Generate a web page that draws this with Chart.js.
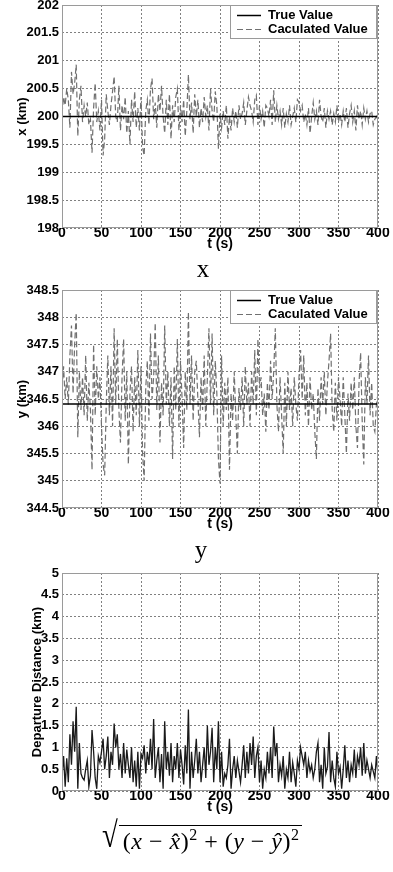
<!DOCTYPE html>
<html>
<head>
<meta charset="utf-8">
<script src="https://cdn.jsdelivr.net/npm/chart.js@4/dist/chart.umd.min.js"></script>
<style>
body{margin:0;background:#fff;width:393px;height:872px;position:relative;overflow:hidden}
canvas{position:absolute;left:0}
.cap{position:absolute;left:0;font-family:"Liberation Serif";font-size:25px;line-height:25px;text-align:center}
#formula{position:absolute;left:100px;top:822px;font-family:"Liberation Serif";font-size:24px;line-height:30px;white-space:nowrap}
#formula .rad{display:inline-block;font-size:36px;vertical-align:top;margin-top:-2px;margin-right:-1px;transform:scaleX(0.8)}
#formula .under{display:inline-block;border-top:1.5px solid #000;padding:0 2px 0 4px;margin-top:3px;letter-spacing:0.5px}
#formula sup{font-size:16px;vertical-align:9px;line-height:0}
</style>
</head>
<body>
<canvas id="chartX" width="393" height="256" style="top:0"></canvas>
<div class="cap" style="top:256px;width:406px">x</div>
<canvas id="chartY" width="393" height="252" style="top:284px"></canvas>
<div class="cap" style="top:537px;width:402px">y</div>
<canvas id="chartD" width="393" height="252" style="top:567px"></canvas>
<div id="formula"><span class="rad">√</span><span class="under">(<i>x</i> − <i>x̂</i>)<sup>2</sup> + (<i>y</i> − <i>ŷ</i>)<sup>2</sup></span></div>
<script>
// sampled every 2 s, t = 0 ... 400
const sampleStep = 2;
const trueX = 200;
const trueY = 346.41;
const calcX = [
  200.05,200.35,200.2,200.5,200.3,199.8,200.8,200.4,200.6,200.93,
  199.65,200.3,200.55,199.9,200.2,200.0,200.25,199.85,199.95,199.35,
  200.15,200.6,199.9,200.1,199.75,200.3,199.3,199.6,200.4,200.1,
  199.85,200.2,200.45,200.72,200.0,199.9,200.55,199.75,200.2,199.95,
  200.35,199.7,200.1,199.5,200.3,199.9,200.45,199.8,200.15,199.75,
  200.35,199.45,199.3,200.1,200.3,199.85,200.5,200.68,199.95,200.25,
  199.8,200.4,200.1,200.55,200.0,199.7,200.3,199.85,200.4,199.6,
  200.2,199.9,200.35,200.5,199.75,200.2,199.9,200.3,199.65,200.1,
  200.75,199.95,200.25,199.7,200.4,200.0,200.3,199.8,200.15,199.9,
  200.35,200.0,200.2,199.75,200.5,200.1,199.9,200.45,200.2,199.42,
  200.05,199.8,200.1,199.85,200.2,199.6,200.0,199.75,200.15,199.9,
  200.1,199.8,200.2,199.95,200.05,200.25,199.85,200.1,200.35,200.2,
  200.1,199.9,200.3,200.38,199.85,200.2,199.95,200.1,199.8,200.2,
  200.15,200.0,200.3,199.85,200.47,199.9,200.2,199.95,200.1,199.85,
  200.15,199.8,200.05,199.9,200.2,199.85,200.0,200.15,199.9,200.3,
  200.25,200.1,200.2,199.9,200.05,199.85,200.15,199.7,200.0,200.25,
  199.95,200.1,199.85,200.3,200.0,199.9,200.15,199.8,200.1,199.95,
  200.1,199.85,200.05,199.9,200.2,199.9,200.05,199.85,200.1,199.9,
  200.15,199.8,200.05,200.2,199.9,200.1,199.75,200.2,199.95,200.1,
  199.85,200.15,199.95,200.1,199.9,200.05,200.1,199.85,199.95,200.0,
  199.9
];
const calcY = [
  346.7,347.1,346.5,346.9,346.4,347.3,347.85,346.6,347.5,348.08,
  345.8,347.0,346.3,346.9,346.2,347.3,346.1,346.8,346.3,345.2,
  347.5,346.2,347.1,346.5,346.9,346.0,345.3,345.1,346.4,347.3,
  346.2,347.1,346.0,347.8,346.4,347.6,346.3,345.7,346.9,347.6,
  346.1,347.0,345.3,346.6,347.1,345.9,346.9,346.2,347.4,346.0,
  347.1,345.5,345.0,346.7,347.2,346.1,347.7,346.5,346.9,347.9,
  346.3,347.3,345.7,346.8,346.2,347.85,346.4,347.0,346.0,346.9,
  345.4,347.1,346.3,347.6,346.0,347.2,346.5,345.6,347.0,346.3,
  348.1,346.4,347.3,346.1,347.0,347.2,346.5,345.8,346.9,346.3,
  347.3,346.0,346.9,347.8,346.4,347.7,346.2,347.2,346.6,345.4,
  344.95,347.3,346.0,346.8,346.3,346.9,345.2,346.6,346.1,347.0,
  346.2,345.5,346.7,346.3,346.9,346.0,347.1,346.4,346.8,346.0,
  347.0,346.4,347.4,346.2,347.6,346.7,346.9,346.2,346.6,345.9,
  346.8,346.3,347.2,346.5,347.0,347.8,346.4,345.9,346.9,346.2,
  345.5,346.8,346.0,347.0,346.3,346.7,346.0,346.9,346.4,346.1,
  346.9,347.4,346.5,347.3,346.2,346.8,346.0,346.9,346.3,346.6,
  345.9,345.4,346.7,346.1,346.9,346.4,347.0,346.2,346.8,347.2,
  347.7,346.3,345.9,346.8,346.1,346.9,346.5,346.0,346.9,346.2,
  345.5,346.6,346.1,346.8,346.3,346.9,346.0,345.6,346.8,347.35,
  346.1,345.3,346.9,346.4,347.3,346.2,346.8,346.0,345.9,346.4,
  346.6
];
const distance = [
  0.35,0.8,0.1,0.75,0.2,1.3,0.6,1.6,0.9,1.93,
  0.05,1.1,0.4,0.3,0.25,0.5,0.7,0.1,0.35,1.4,
  0.9,0.3,0.05,0.8,0.65,0.9,1.2,0.5,0.8,1.25,
  0.3,0.9,0.6,1.55,1.0,1.3,0.5,0.85,0.3,1.1,
  0.4,0.95,0.6,0.3,1.0,0.2,0.7,0.1,0.9,0.05,
  0.85,0.75,1.05,0.4,0.9,0.6,1.2,0.5,1.65,0.3,
  0.7,1.0,0.2,0.85,0.05,1.6,0.5,0.9,0.35,1.1,
  0.2,0.8,0.5,1.1,0.3,0.95,0.6,0.15,1.05,0.4,
  1.87,0.05,0.9,0.3,0.7,1.2,0.4,0.9,0.2,0.6,
  1.0,0.3,1.5,0.6,0.9,1.45,0.2,1.0,0.5,1.6,
  0.2,0.9,0.1,0.4,0.3,0.6,1.2,0.05,0.5,0.8,
  0.3,0.7,0.45,0.2,0.6,1.05,0.3,0.9,0.4,1.1,
  0.6,1.25,0.3,0.8,1.0,0.2,0.7,0.05,0.5,0.3,
  0.9,0.4,1.0,0.3,1.48,0.8,1.1,0.2,0.6,0.35,
  0.8,0.05,0.5,0.3,0.9,0.2,0.65,0.4,0.1,0.7,
  0.5,1.0,0.8,0.6,0.9,0.3,0.7,0.45,0.6,0.3,
  0.5,0.9,1.1,0.2,0.6,0.05,1.0,0.4,0.55,1.35,
  0.2,0.7,0.3,0.1,0.9,0.4,0.55,0.05,0.5,1.05,
  0.3,0.7,0.2,0.6,0.4,0.95,0.3,0.8,0.6,1.0,
  0.35,1.1,0.4,0.7,0.5,0.3,0.6,0.45,0.3,0.8,
  0.35
];
const xTicks = {min: 0, max: 400, step: 50};

const times = calcX.map((v, i) => i * sampleStep);
const pts = arr => arr.map((v, i) => ({x: times[i], y: v}));
const flat = v => [{x: xTicks.min, y: v}, {x: xTicks.max, y: v}];

Chart.defaults.font.family = '"Liberation Sans", Arial, sans-serif';
Chart.defaults.font.size = 13;
Chart.defaults.font.weight = 'bold';
Chart.defaults.color = '#000';

// box round the plot + legend inside the top right corner (matlab look)
const frameLegend = {
  id: 'frameLegend',
  afterDatasetsDraw(chart, args, opts) {
    const ctx = chart.ctx, a = chart.chartArea;
    ctx.save();
    ctx.setLineDash([]);
    ctx.lineWidth = 1;
    ctx.strokeStyle = '#9a9a9a';
    ctx.strokeRect(a.left + 0.5, a.top + 0.5, a.right - a.left - 1, a.bottom - a.top - 1);
    if (opts.show) {
      const w = 146, h = 33;
      const x0 = Math.round(a.right - w - 2), y0 = Math.round(a.top);
      ctx.fillStyle = '#fff';
      ctx.fillRect(x0, y0, w, h);
      ctx.strokeStyle = '#9a9a9a';
      ctx.strokeRect(x0 + 0.5, y0 + 0.5, w, h);
      ctx.font = 'bold 13px "Liberation Sans"';
      ctx.textBaseline = 'middle';
      chart.data.datasets.forEach((ds, i) => {
        const cy = y0 + 10 + i * 14 + 0.5;
        ctx.beginPath();
        ctx.setLineDash(ds.borderDash || []);
        ctx.strokeStyle = ds.borderColor;
        ctx.lineWidth = ds.borderWidth;
        ctx.moveTo(x0 + 7, cy);
        ctx.lineTo(x0 + 31, cy);
        ctx.stroke();
        ctx.setLineDash([]);
        ctx.fillStyle = '#000';
        ctx.fillText(ds.label, x0 + 38, cy);
      });
    }
    ctx.restore();
  }
};

function makeChart(id, datasets, yMin, yMax, yStep, yTitle, yTitlePad, topPad, legend) {
  return new Chart(document.getElementById(id).getContext('2d'), {
    type: 'line',
    data: {datasets: datasets},
    plugins: [frameLegend],
    options: {
      responsive: false,
      animation: false,
      layout: {padding: {top: topPad, right: 15, left: 0, bottom: 0}},
      elements: {point: {radius: 0}, line: {tension: 0}},
      scales: {
        x: {
          type: 'linear', min: xTicks.min, max: xTicks.max,
          ticks: {stepSize: xTicks.step, padding: -3, maxRotation: 0, font: {size: 14}},
          grid: {color: '#808080', drawTicks: false},
          border: {display: false, dash: [2, 2]},
          title: {display: true, text: 't (s)', padding: {top: 0, bottom: 3}, font: {size: 14}},
          afterFit(s) { s.height = 28; s.paddingLeft = 0; s.paddingRight = 0; }
        },
        y: {
          min: yMin, max: yMax,
          ticks: {stepSize: yStep, padding: 3, callback: v => String(+v.toFixed(1))},
          grid: {color: '#808080', drawTicks: false},
          border: {display: false, dash: [2, 2]},
          title: {display: true, text: yTitle, padding: {top: yTitlePad, bottom: 0}},
          afterFit(s) { s.width = 62; s.paddingTop = 0; s.paddingBottom = 0; }
        }
      },
      plugins: {
        legend: {display: false},
        tooltip: {enabled: false},
        frameLegend: {show: legend}
      }
    }
  });
}

function pair(trueVal, calc) {
  return [
    {label: 'True Value', data: flat(trueVal), borderColor: '#000', borderWidth: 1.5},
    {label: 'Caculated Value', data: pts(calc), borderColor: '#707070', borderWidth: 1.2, borderDash: [6, 3]}
  ];
}

makeChart('chartX', pair(trueX, calcX), 198, 202, 0.5, 'x (km)', 15, 5, true);
makeChart('chartY', pair(trueY, calcY), 344.5, 348.5, 0.5, 'y (km)', 15, 6, true);
makeChart('chartD', [
  {label: 'Departure Distance', data: pts(distance), borderColor: '#1a1a1a', borderWidth: 1.3}
], 0, 5, 0.5, 'Departure Distance (km)', 30, 6, false);
</script>
</body>
</html>
